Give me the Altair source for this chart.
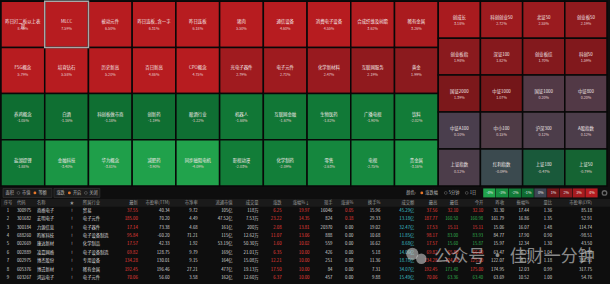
import altair as alt
import pandas as pd

FONT = "Noto Sans CJK SC"

# ---------------- heatmap data ----------------
L_NAMES = ["昨日打二板以上表\n现", "MLCC", "被动元件", "昨日连板_含一字", "昨日连板",
           "猪肉", "通信设备", "消费电子设备", "合成纤维及树脂", "稀有金属",
           "F5G概念", "培育钻石", "历史新高", "百日新高", "CPO概念",
           "光电子器件", "电子元件", "化学新材料", "互联网服务", "黄金",
           "养鸡概念", "白酒", "科创板做市商", "创新药", "酿酒行业",
           "机器人", "互联网金融", "生物医药", "广播电视", "饮料",
           "盐湖提锂", "金融科技", "华为概念", "减肥药", "同步磁阻电机",
           "影视动漫", "化学制药", "零售", "电视", "贵金属"]
L_PCT = [8.45, 7.59, 6.50, 6.31, 6.18, 5.50, 4.60, 4.55, 3.62, 3.26,
         5.79, 5.58, 5.20, 4.86, 4.75, 2.79, 2.71, 2.47, 2.19, 1.99,
         -1.05, -1.16, -1.18, -1.19, -1.22, -1.68, -1.67, -1.82, -1.90, -2.02,
         -1.88, -3.40, -3.81, -3.90, -4.09, -2.03, -2.09, -2.63, -2.75, -3.16]
R_NAMES = ["创成长", "科创创业50", "北证50", "创业板50",
           "创业板指", "深证100", "创业板综", "科创50",
           "国证2000", "中证1000", "国证1000", "中证800",
           "中证A100", "中小100", "沪深300", "A股指数",
           "上证指数", "红利指数", "上证180", "上证50"]
R_PCT = [3.18, 2.72, 2.55, 2.19,
         1.98, 1.82, 1.70, 1.59,
         1.39, 1.07, 0.20, 0.20,
         0.10, 0.15, 0.12, 0.12,
         0.12, -0.09, -0.47, -0.79]
SELECTED = "MLCC"

# ---------------- table data ----------------
T_IDX = [1, 2, 3, 4, 5, 6, 7, 8, 9]
T_CODE = ["300975", "301682", "300184", "688260", "002669", "002889", "002975", "605376", "603267"]
T_NAME = ["商络电子", "宏明电子", "力源信息", "昀冢科技", "康达新材", "凌嘉网络", "博杰股份", "博迁新材", "鸿远电子"]
T_IND = ["贸易", "电子元件", "电子器件", "电子设备制造", "化学制品", "电子设备制造", "专用设备", "稀有金属", "电子元件"]
T_LAST = [37.55, 185.00, 17.14, 95.84, 17.57, 69.82, 134.28, 192.45, 70.06]
T_PE_TTM = [40.34, 70.20, 73.38, -60.20, 42.33, 128.75, 130.01, 196.46, 56.60]
T_PB = [9.72, 4.49, 4.68, 71.21, 1.92, 9.79, 9.15, 27.21, 3.58]
T_FLOAT = ["105亿", "47.52亿", "161亿", "115亿", "53.19亿", "169亿", "164亿", "477亿", "162亿"]
T_VOL = ["118万", "7.53万", "200万", "12.62万", "50.30万", "21.01万", "15.08万", "19.13万", "12.60万"]
T_CHG = [6.25, 23.22, 2.08, 11.07, 1.60, 6.35, 12.21, 17.50, 6.37]
T_PCT = [19.97, 14.35, 13.81, 13.06, 10.02, 10.00, 10.00, 10.00, 10.00]
T_HAND = [16046, 824, 20370, 888, 559, 426, 251, 84, 457]
T_SPEED = [0.05, 0.18, 0.00, 0.00, 0.00, 0.00, 0.00, 0.00, 0.00]
T_TURN = [15.96, 29.33, 19.02, 10.68, 16.62, 5.18, 11.36, 7.31, 9.88]
T_AMT = ["45.29亿", "13.18亿", "32.47亿", "11.85亿", "8.68亿", "14.06亿", "18.78亿", "34.07亿", "15.49亿"]
T_HIGH = [37.56, 187.77, 17.53, 98.17, 17.57, 69.82, 134.28, 192.45, 70.06]
T_LOW = [32.10, 160.50, 15.11, 83.00, 15.60, 65.80, 124.30, 171.40, 63.36]
T_OPEN = [32.10, 160.98, 15.11, 83.93, 15.87, 66.00, 125.00, 175.00, 63.40]
T_PREV = [31.30, 161.79, 15.06, 84.77, 15.97, 63.47, 122.07, 174.95, 63.69]
T_AMP = [17.44, 16.86, 16.07, 17.90, 12.34, 6.33, 8.17, 12.03, 10.52]
T_VR = [1.36, 1.35, 1.48, 0.90, 1.30, 1.04, 1.18, 0.99, 1.00]
T_PE_LYR = [85.18, 52.91, 114.74, -98.51, 43.50, 84.88, 188.51, 317.75, 54.76]

HEADERS = ["序号", "代码", "名称", "★", "所属行业", "最新", "市盈率(TTM)", "市净率", "流通市值",
           "成交量", "涨跌", "涨幅%↓", "现手", "涨速%", "换手%", "成交额", "最高", "最低",
           "今开", "昨收", "振幅%", "量比", "市盈率(LYR)"]

LEGEND_LABELS = ["-4%", "-3%", "-2%", "-1%", "0%", "1%", "2%", "3%", "4%"]
LEGEND_VALUES = [-4, -3, -2, -1, 0, 1, 2, 3, 4]

# ---------------- layout / style ----------------
BG = "#0e0e0e"
RED, GREEN, CYAN, WHITE, GREY = "#f0403c", "#33b352", "#3fc3d2", "#d8d8d8", "#9c9c9c"
COL_X = [7, 16, 36, 71, 82, 137, 169, 197, 232, 258, 281, 309, 332, 353, 380, 414,
         437, 458, 483, 504, 529, 552, 592]
COL_ALIGN = ["center", "left", "left", "center", "left"] + ["right"] * 18
LCOLS, LROWS, RCOLS, RROWS, RW = 10, 4, 4, 5, 0.965

color_scale = alt.Scale(
    domain=[-4, -3, -2, -1, -0.5, -0.1, 0.15, 1, 2, 3, 4],
    range=["#21a34c", "#178e41", "#127c38", "#0e6c31", "#1c5a35", "#3b4a4e",
           "#4f3b46", "#721619", "#8b1a1e", "#a61b1f", "#b71c20"],
    clamp=True)

# ---------------- heatmap ----------------
tiles = []
for i, (n, p) in enumerate(zip(L_NAMES, L_PCT)):
    r, c = divmod(i, LCOLS)
    tiles.append(dict(name=n, pct=p, x0=c, x1=c + 1, y0=r / LROWS, y1=(r + 1) / LROWS))
for i, (n, p) in enumerate(zip(R_NAMES, R_PCT)):
    r, c = divmod(i, RCOLS)
    tiles.append(dict(name=n, pct=p, x0=LCOLS + c * RW, x1=LCOLS + (c + 1) * RW,
                      y0=r / RROWS, y1=(r + 1) / RROWS))
tdf = pd.DataFrame(tiles)
tdf["label"] = tdf["pct"].map(lambda v: f"{v:.2f}%")
tdf["xc"] = (tdf.x0 + tdf.x1) / 2
tdf["yc"] = (tdf.y0 + tdf.y1) / 2
tdf["sel"] = tdf["name"] == SELECTED

xs = alt.Scale(domain=[0, LCOLS + RCOLS * RW], nice=False, zero=False)
ys = alt.Scale(domain=[0, 1], nice=False, zero=False, reverse=True)

hbase = alt.Chart(tdf)
rects = hbase.mark_rect(stroke="#080808", strokeWidth=1.5).encode(
    x=alt.X("x0:Q", scale=xs, axis=None), x2="x1",
    y=alt.Y("y0:Q", scale=ys, axis=None), y2="y1",
    color=alt.Color("pct:Q", scale=color_scale, legend=None))
selbox = hbase.transform_filter("datum.sel").mark_rect(
    fillOpacity=0, stroke="#a8a8a8", strokeWidth=1.5).encode(
    x=alt.X("x0:Q", scale=xs, axis=None), x2="x1",
    y=alt.Y("y0:Q", scale=ys, axis=None), y2="y1")
names = hbase.mark_text(font=FONT, fontSize=4.4, color="#f4eaea", dy=-2,
                        lineBreak="\n", lineHeight=5, baseline="middle").encode(
    x=alt.X("xc:Q", scale=xs, axis=None), y=alt.Y("yc:Q", scale=ys, axis=None), text="name:N")
pcts = hbase.mark_text(font=FONT, fontSize=3.7, color="#e6d2d2", dy=4.2, baseline="middle").encode(
    x=alt.X("xc:Q", scale=xs, axis=None), y=alt.Y("yc:Q", scale=ys, axis=None), text="label:N")
heat = alt.layer(rects, selbox, names, pcts).properties(width=607, height=185)

# ---------------- toolbar ----------------
px = alt.Scale(domain=[0, 610], nice=False, zero=False)
boxes = pd.DataFrame(dict(x0=[2, 53], x1=[51, 99]))
tb_box = alt.Chart(boxes).mark_rect(fill="#1b1b1b", stroke="#3a3a3a", strokeWidth=0.6).encode(
    x=alt.X("x0:Q", scale=px, axis=None), x2="x1",
    y=alt.value(1.5), y2=alt.value(10.5))
tb_texts = pd.DataFrame(dict(
    t=["面积", "市值", "等额", "涨跌", "开启", "关闭", "颜色:", "涨跌幅", "5分钟", "1日"],
    x=[4.5, 21, 37.5, 55.5, 72, 88.5, 406, 425, 448.5, 469.5]))
tb_txt = alt.Chart(tb_texts).mark_text(font=FONT, fontSize=4.2, color="#b8b8b8", align="left", baseline="middle").encode(
    x=alt.X("x:Q", scale=px, axis=None), y=alt.value(6), text="t:N")
radios = pd.DataFrame(dict(x=[17.5, 34, 68.5, 85, 421.5, 445.5, 466.5], on=[0, 1, 1, 0, 1, 0, 0]))
rad_off = alt.Chart(radios).transform_filter("datum.on == 0").mark_point(
    size=8, filled=False, color="#8a8a8a", strokeWidth=0.6).encode(
    x=alt.X("x:Q", scale=px, axis=None), y=alt.value(6))
rad_on = alt.Chart(radios).transform_filter("datum.on == 1").mark_point(
    size=8, filled=True, color="#e8782a", opacity=1).encode(
    x=alt.X("x:Q", scale=px, axis=None), y=alt.value(6))
leg = pd.DataFrame(dict(lab=LEGEND_LABELS, v=LEGEND_VALUES, i=list(range(9))))
leg_r = alt.Chart(leg).transform_calculate(
    x0="483 + datum.i * 12.8", x1="483 + (datum.i + 1) * 12.8 - 0.6"
).mark_rect().encode(
    x=alt.X("x0:Q", scale=px, axis=None), x2="x1", y=alt.value(1.5), y2=alt.value(10.5),
    color=alt.Color("v:Q", scale=color_scale, legend=None))
leg_t = alt.Chart(leg).transform_calculate(xc="483 + (datum.i + 0.5) * 12.8").mark_text(
    font=FONT, fontSize=3.8, color="#e8e8e8", baseline="middle").encode(
    x=alt.X("xc:Q", scale=px, axis=None), y=alt.value(6), text="lab:N")
gear = alt.Chart(pd.DataFrame(dict(x=[604.5]))).mark_point(
    size=20, filled=False, color="#8a8a8a", strokeWidth=1.4).encode(
    x=alt.X("x:Q", scale=px, axis=None), y=alt.value(6))
toolbar = alt.layer(tb_box, tb_txt, rad_off, rad_on, leg_r, leg_t, gear).properties(width=610, height=12)

# ---------------- table ----------------
def f2(v):
    return f"{v:.2f}"

cells = []
for k in range(len(T_IDX)):
    prev = T_PREV[k]
    def cmp(v):
        return RED if v > prev else (GREEN if v < prev else WHITE)
    vals = [
        (str(T_IDX[k]), WHITE), (T_CODE[k], WHITE), (T_NAME[k], WHITE), ("!", WHITE), (T_IND[k], WHITE),
        (f2(T_LAST[k]), cmp(T_LAST[k])), (f2(T_PE_TTM[k]), WHITE), (f2(T_PB[k]), WHITE),
        (T_FLOAT[k], WHITE), (T_VOL[k], WHITE),
        (f2(T_CHG[k]), RED if T_CHG[k] > 0 else GREEN), (f2(T_PCT[k]), RED if T_PCT[k] > 0 else GREEN),
        (str(T_HAND[k]), WHITE), (f2(T_SPEED[k]), RED if T_SPEED[k] > 0 else WHITE),
        (f2(T_TURN[k]), WHITE), (T_AMT[k], CYAN),
        (f2(T_HIGH[k]), cmp(T_HIGH[k])), (f2(T_LOW[k]), cmp(T_LOW[k])), (f2(T_OPEN[k]), cmp(T_OPEN[k])),
        (f2(prev), WHITE), (f2(T_AMP[k]), WHITE), (f2(T_VR[k]), WHITE), (f2(T_PE_LYR[k]), WHITE)]
    for j, (t, c) in enumerate(vals):
        cells.append(dict(row=k + 1, x=COL_X[j], t=t, c=c, a=COL_ALIGN[j]))
for j, h in enumerate(HEADERS):
    cells.append(dict(row=0, x=COL_X[j], t=h, c=GREY, a=COL_ALIGN[j]))
cdf = pd.DataFrame(cells)

ty = alt.Scale(domain=[-0.43, 9.93], nice=False, zero=False, reverse=True)
hdr_bg = alt.Chart(pd.DataFrame(dict(y0=[-0.43], y1=[0.5]))).mark_rect(fill="#1a1a1a").encode(
    x=alt.value(0), x2=alt.value(610), y=alt.Y("y0:Q", scale=ty, axis=None), y2="y1")
layers = [hdr_bg]
for al in ["left", "center", "right"]:
    layers.append(alt.Chart(cdf).transform_filter(alt.datum.a == al).mark_text(
        font=FONT, fontSize=4.3, align=al, baseline="middle").encode(
        x=alt.X("x:Q", scale=px, axis=None), y=alt.Y("row:Q", scale=ty, axis=None),
        text="t:N", color=alt.Color("c:N", scale=None)))

# watermark
wm = pd.DataFrame(dict(t=["公众号 · 佳财一分钟"], x=[434]))
wm_t = alt.Chart(wm).mark_text(font=FONT, fontSize=17, color="#dcdcdc", opacity=0.6,
                               align="left", baseline="middle").encode(
    x=alt.X("x:Q", scale=px, axis=None), y=alt.value(58), text="t:N")
logo = pd.DataFrame(dict(x=[412, 421], yy=[55, 60], s=[150, 110]))
wm_l = alt.Chart(logo).mark_circle(color="#dcdcdc", opacity=0.55).encode(
    x=alt.X("x:Q", scale=px, axis=None), y=alt.Y("yy:Q", scale=alt.Scale(domain=[0, 87], range=[0, 87]), axis=None),
    size=alt.Size("s:Q", scale=None))
table = alt.layer(*layers, wm_l, wm_t).resolve_scale(y="independent").properties(width=610, height=87)

chart = alt.vconcat(heat, toolbar, table, spacing=0).properties(
    background=BG, padding=0
).configure_view(stroke=None).configure_concat(spacing=0)

chart.save("out.html", embed_options={"renderer": "svg", "actions": False})
